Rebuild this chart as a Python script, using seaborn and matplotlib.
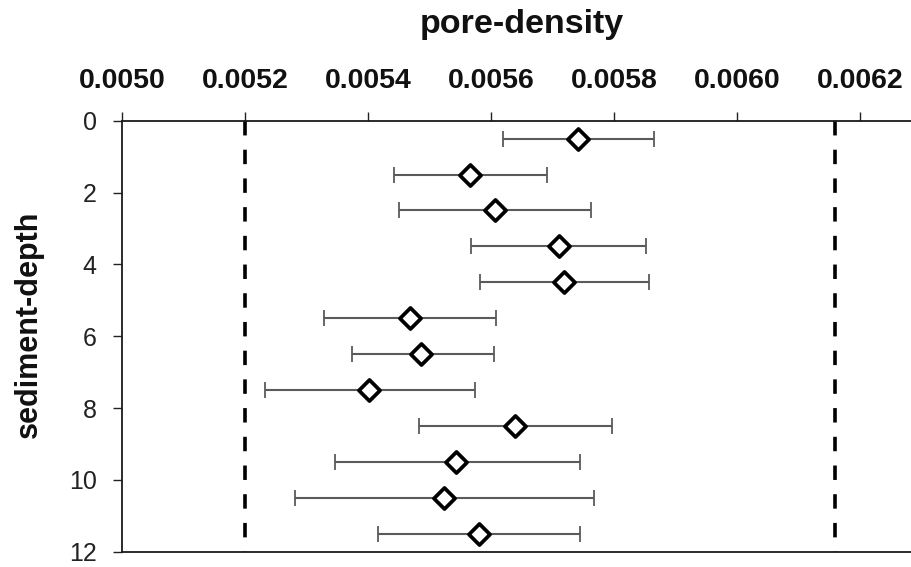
import matplotlib
matplotlib.use("Agg")
import matplotlib.pyplot as plt
import numpy as np
import pandas as pd
import seaborn as sns

# Sediment layers (depth midpoints) with mean pore density and its interval
depth = [0.5, 1.5, 2.5, 3.5, 4.5, 5.5, 6.5, 7.5, 8.5, 9.5, 10.5, 11.5]
density_mean = [0.005741, 0.005565, 0.005606, 0.005709, 0.005718, 0.005467,
                0.005485, 0.005401, 0.005638, 0.005543, 0.005523, 0.005580]
density_low = [0.005619, 0.005441, 0.005450, 0.005566, 0.005581, 0.005328,
               0.005373, 0.005232, 0.005482, 0.005346, 0.005280, 0.005415]
density_high = [0.005865, 0.005691, 0.005762, 0.005851, 0.005856, 0.005608,
                0.005604, 0.005573, 0.005796, 0.005744, 0.005767, 0.005744]

# Reference limits drawn as dashed vertical lines
limits = [0.0052, 0.006158]

x_ticks = [0.0050, 0.0052, 0.0054, 0.0056, 0.0058, 0.0060, 0.0062]
x_tick_labels = ["0.0050", "0.0052", "0.0054", "0.0056", "0.0058", "0.0060", "0.0062"]
y_ticks = [0, 2, 4, 6, 8, 10, 12]

df = pd.DataFrame({"depth": depth, "mean": density_mean,
                   "low": density_low, "high": density_high})

sns.set_theme(style="white")
plt.rcParams["font.family"] = ["Liberation Sans", "DejaVu Sans"]

W, H = 912, 567
fig = plt.figure(figsize=(W / 100, H / 100), dpi=100)
left_px, right_px, top_px, bottom_px = 122.5, 922.0, 120.7, 551.7
ax = fig.add_axes([left_px / W, 1 - bottom_px / H,
                   (right_px - left_px) / W, (bottom_px - top_px) / H])

# interval bars
err = np.vstack([df["mean"] - df["low"], df["high"] - df["mean"]])
eb = ax.errorbar(df["mean"], df["depth"], xerr=err, fmt="none",
                 ecolor="#5a5a5a", elinewidth=1.5, capsize=5.5, capthick=1.3,
                 zorder=2)
for cap in eb[1]:
    cap.set_color("#2a2a2a")

# mean markers
sns.scatterplot(data=df, x="mean", y="depth", marker="D", s=115,
                facecolor="white", edgecolor="black", linewidth=2.7,
                ax=ax, zorder=3, legend=False)

# dashed limit lines
for lim in limits:
    ax.plot([lim, lim], [0, 12], color="black", lw=2.6,
            dashes=(4.0, 3.95), dash_capstyle="butt", zorder=1)

ax.set_xlim(0.0050, 0.0063)
ax.set_ylim(12, 0)

ax.xaxis.tick_top()
ax.set_xticks(x_ticks)
ax.set_xticklabels(x_tick_labels, fontsize=20.5, fontweight="bold", color="#111111")
ax.set_yticks(y_ticks)
ax.set_yticklabels([str(v) for v in y_ticks], fontsize=18, color="#222222")

ax.tick_params(axis="x", which="major", top=True, bottom=False, direction="out",
               length=6.5, width=1.0, color="#222222", pad=13)
ax.tick_params(axis="y", which="major", left=True, direction="out",
               length=6.5, width=1.0, color="#222222", pad=12)

for side in ["left", "top", "bottom"]:
    ax.spines[side].set_visible(True)
    ax.spines[side].set_color("#1a1a1a")
    ax.spines[side].set_linewidth(1.3)
ax.spines["right"].set_visible(False)

ax.xaxis.set_label_position("top")
ax.set_xlabel("pore-density", fontsize=24.5, fontweight="bold", color="#111111")
ax.xaxis.label.set_verticalalignment("baseline")
ax.xaxis.set_label_coords(0.5, 1 + (top_px - 33.5) / (bottom_px - top_px))

ax.set_ylabel("sediment-depth", fontsize=22, fontweight="bold", color="#111111")
ax.yaxis.label.set_verticalalignment("center")
ax.yaxis.set_label_coords((29 - left_px) / (right_px - left_px),
                          (bottom_px - 324) / (bottom_px - top_px))

ax.grid(False)
fig.savefig("out.png", dpi=100, facecolor="white")
